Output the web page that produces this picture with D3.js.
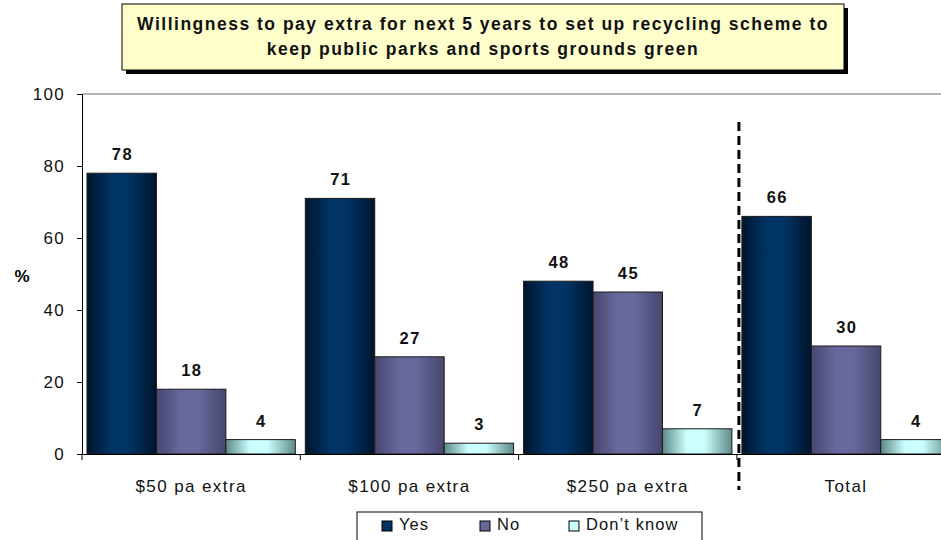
<!DOCTYPE html>
<html>
<head>
<meta charset="utf-8">
<script src="https://cdn.jsdelivr.net/npm/d3@7"></script>
<style>
  html, body { margin: 0; padding: 0; background: #fff; }
  svg { display: block; font-family: "Liberation Sans", Arial, sans-serif; }
</style>
</head>
<body>
<svg id="chart" width="941" height="540"></svg>
<script>
// Survey results: willingness to pay extra, by amount asked
const categories = ["$50 pa extra", "$100 pa extra", "$250 pa extra", "Total"];
const seriesNames = ["Yes", "No", "Don\u2019t know"];
const yesValues = [78, 71, 48, 66];
const noValues = [18, 27, 45, 30];
const dontKnowValues = [4, 3, 7, 4];
const yTicks = [0, 20, 40, 60, 80, 100];
const titleLines = [
  "Willingness to pay extra for next 5 years to set up recycling scheme to",
  "keep public parks and sports grounds green"
];

const seriesValues = [yesValues, noValues, dontKnowValues];
const FONT = "Liberation Sans, Arial, sans-serif";

const svg = d3.select("#chart");

// Bar gradients: dark edges, lighter centre for a cylindrical look
const gradSpecs = [
  { id: "gYes", mid: "#003366", dark: "#00152b" },
  { id: "gNo", mid: "#68689c", dark: "#47476f" },
  { id: "gDk", mid: "#ccffff", dark: "#5e8a8a" }
];
const defs = svg.append("defs");
gradSpecs.forEach(g => {
  const lg = defs.append("linearGradient").attr("id", g.id)
    .attr("x1", "0%").attr("x2", "100%").attr("y1", "0%").attr("y2", "0%");
  lg.append("stop").attr("offset", "0%").attr("stop-color", g.dark);
  lg.append("stop").attr("offset", "35%").attr("stop-color", g.mid);
  lg.append("stop").attr("offset", "60%").attr("stop-color", g.mid);
  lg.append("stop").attr("offset", "100%").attr("stop-color", g.dark);
});
const legendFills = ["#003366", "#666699", "#ccffff"];

// Plot geometry
const plotLeft = 82, plotTop = 94, plotBottom = 454;
const catWidth = 218.3;

const x = d3.scaleBand()
  .domain(categories)
  .range([plotLeft, plotLeft + catWidth * categories.length])
  .paddingInner(0).paddingOuter(0);

const xInner = d3.scaleBand()
  .domain(seriesNames)
  .range([0, x.bandwidth()])
  .paddingOuter(0.072).paddingInner(0);

const y = d3.scaleLinear().domain([0, 100]).range([plotBottom, plotTop]);

// Top border of the plot area
svg.append("line")
  .attr("x1", plotLeft).attr("x2", 941)
  .attr("y1", y(100)).attr("y2", y(100))
  .attr("stroke", "#b3b3b3").attr("stroke-width", 2);

// Y axis
const yAxis = svg.append("g")
  .attr("transform", `translate(${plotLeft},0)`)
  .call(d3.axisLeft(y).tickValues(yTicks).tickSize(5).tickPadding(12));
yAxis.select(".domain").attr("stroke", "#000");
yAxis.selectAll(".tick line").attr("stroke", "#000");
yAxis.selectAll("text")
  .attr("font-size", 17).attr("letter-spacing", 1.3).attr("fill", "#111")
  .attr("font-family", FONT);

svg.append("text")
  .attr("x", 22).attr("y", 282)
  .attr("text-anchor", "middle")
  .attr("font-size", 17).attr("font-weight", "bold")
  .text("%");

// Bars
const groups = svg.append("g").selectAll("g")
  .data(categories)
  .join("g")
  .attr("transform", d => `translate(${x(d)},0)`);

groups.each(function (cat, ci) {
  const g = d3.select(this);
  seriesNames.forEach((s, si) => {
    const v = seriesValues[si][ci];
    g.append("rect")
      .attr("x", xInner(s))
      .attr("y", y(v))
      .attr("width", xInner.bandwidth())
      .attr("height", y(0) - y(v))
      .attr("fill", `url(#${gradSpecs[si].id})`)
      .attr("stroke", "#1a1a1a")
      .attr("stroke-width", 1);
    g.append("text")
      .attr("x", xInner(s) + xInner.bandwidth() / 2 + 0.7)
      .attr("y", y(v) - 13)
      .attr("text-anchor", "middle")
      .attr("font-size", 16.5).attr("font-weight", "bold")
      .attr("letter-spacing", 1.4)
      .attr("fill", "#111")
      .text(v);
  });
});

// X axis
const xAxis = svg.append("g")
  .attr("transform", `translate(0,${plotBottom})`)
  .call(d3.axisBottom(x).tickSize(0).tickPadding(26));
xAxis.select(".domain").attr("stroke", "#000");
xAxis.selectAll("text")
  .attr("font-size", 17).attr("letter-spacing", 1.4).attr("fill", "#111")
  .attr("font-family", FONT);
// Category separators
svg.append("g").selectAll("line")
  .data(categories)
  .join("line")
  .attr("x1", d => x(d)).attr("x2", d => x(d))
  .attr("y1", plotBottom).attr("y2", plotBottom + 6)
  .attr("stroke", "#000");

// Dashed divider before the Total group
const divX = x("Total") + 2;
svg.append("line")
  .attr("x1", divX).attr("x2", divX)
  .attr("y1", 122).attr("y2", 490)
  .attr("stroke", "#000").attr("stroke-width", 3)
  .attr("stroke-dasharray", "9,5");

// Title box with drop shadow
const tb = { x: 122, y: 4, w: 722, h: 66 };
svg.append("rect")
  .attr("x", tb.x + 4).attr("y", tb.y + 4)
  .attr("width", tb.w).attr("height", tb.h)
  .attr("fill", "#000");
svg.append("rect")
  .attr("x", tb.x).attr("y", tb.y)
  .attr("width", tb.w).attr("height", tb.h)
  .attr("fill", "#ffffcc").attr("stroke", "#000").attr("stroke-width", 1);
svg.append("g").selectAll("text")
  .data(titleLines)
  .join("text")
  .attr("x", tb.x + tb.w / 2)
  .attr("y", (d, i) => 30 + i * 25)
  .attr("text-anchor", "middle")
  .attr("font-size", 17.5).attr("font-weight", "bold")
  .attr("letter-spacing", 1.5)
  .attr("fill", "#111")
  .text(d => d);

// Legend
const legend = svg.append("g");
legend.append("rect")
  .attr("x", 357).attr("y", 512)
  .attr("width", 345).attr("height", 40)
  .attr("fill", "#fff").attr("stroke", "#000").attr("stroke-width", 1);
const legendX = [382, 480, 569];
seriesNames.forEach((s, i) => {
  legend.append("rect")
    .attr("x", legendX[i]).attr("y", 521)
    .attr("width", 10).attr("height", 10)
    .attr("fill", legendFills[i]).attr("stroke", "#000").attr("stroke-width", 1);
  legend.append("text")
    .attr("x", legendX[i] + 17).attr("y", 530)
    .attr("font-size", 16.5).attr("letter-spacing", 1.1).attr("fill", "#111")
    .text(s);
});
</script>
</body>
</html>
